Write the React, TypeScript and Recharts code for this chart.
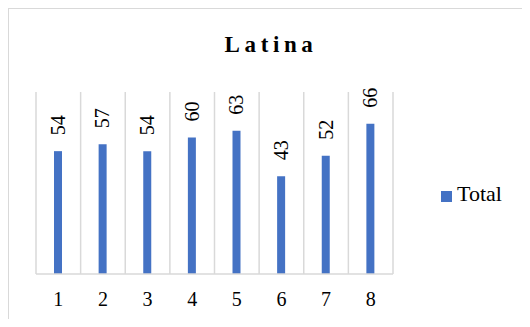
import React from 'react';
import { BarChart, Bar, XAxis, YAxis, CartesianGrid, Legend, LabelList } from 'recharts';

const categorias = ['1', '2', '3', '4', '5', '6', '7', '8'];
const totais = [54, 57, 54, 60, 63, 43, 52, 66];
const nomeSerie = 'Total';
const titulo = 'Latina';

const data = categorias.map((c, i) => ({ categoria: c, total: totais[i] }));

const FONTE = '"Liberation Serif", "Times New Roman", serif';
const AZUL = '#4472C4';
const CINZA = '#d9d9d9';

// rotulo vertical acima de cada barra
function RotuloVertical(props: any) {
  const { x, y, width, value } = props;
  const cx = Number(x) + Number(width) / 2;
  const cy = Number(y) - 16;
  return (
    <text
      x={cx}
      y={cy}
      transform={`rotate(-90, ${cx}, ${cy})`}
      textAnchor="start"
      dy="0.34em"
      fill="#000"
      style={{ fontFamily: FONTE, fontSize: 20 }}
    >
      {value}
    </text>
  );
}

function LegendaTotal() {
  return (
    <div style={{ display: 'flex', alignItems: 'center', fontFamily: FONTE, fontSize: 22, color: '#000', whiteSpace: 'nowrap' }}>
      <span
        style={{ display: 'inline-block', flexShrink: 0, width: 11, height: 11, background: AZUL, marginRight: 5, marginTop: 4 }}
      />
      <span>{nomeSerie}</span>
    </div>
  );
}

export default function App() {
  return (
    <div style={{ position: 'relative', width: 530, height: 327, margin: -8, overflow: 'hidden', background: '#fff' }}>
      <div
        style={{
          position: 'absolute',
          left: 7,
          top: 7,
          width: 600,
          height: 400,
          border: `2px solid ${CINZA}`,
          boxSizing: 'border-box',
        }}
      />
      <div
        style={{
          position: 'absolute',
          left: 4,
          width: 534,
          top: 33,
          textAlign: 'center',
          fontFamily: FONTE,
          fontWeight: 'bold',
          fontSize: 23,
          lineHeight: '23px',
          letterSpacing: 4.6,
          color: '#000',
        }}
      >
        {titulo}
      </div>
      <div style={{ position: 'absolute', left: 0, top: 0 }}>
        <BarChart width={530} height={327} data={data} margin={{ top: 92, right: 137, left: 36, bottom: 23 }}>
          <CartesianGrid
            horizontal={false}
            stroke={CINZA}
            strokeWidth={1.5}
            verticalCoordinatesGenerator={({ offset }: any) =>
              categorias.map((_, i) => offset.left + (i * offset.width) / categorias.length).concat(offset.left + offset.width)
            }
          />
          <XAxis
            dataKey="categoria"
            axisLine={{ stroke: CINZA, strokeWidth: 1.5 }}
            tickLine={false}
            tickMargin={12}
            tick={{ fill: '#000', fontSize: 20, fontFamily: FONTE }}
          />
          <YAxis hide domain={[0, 80]} />
          <Legend
            layout="horizontal"
            verticalAlign="middle"
            align="right"
            content={<LegendaTotal />}
            wrapperStyle={{ position: 'absolute', left: 441, top: 181, width: 0, height: 0, overflow: 'visible' }}
          />
          <Bar dataKey="total" name={nomeSerie} fill={AZUL} barSize={8} isAnimationActive={false}>
            <LabelList dataKey="total" content={<RotuloVertical />} />
          </Bar>
        </BarChart>
      </div>
    </div>
  );
}
